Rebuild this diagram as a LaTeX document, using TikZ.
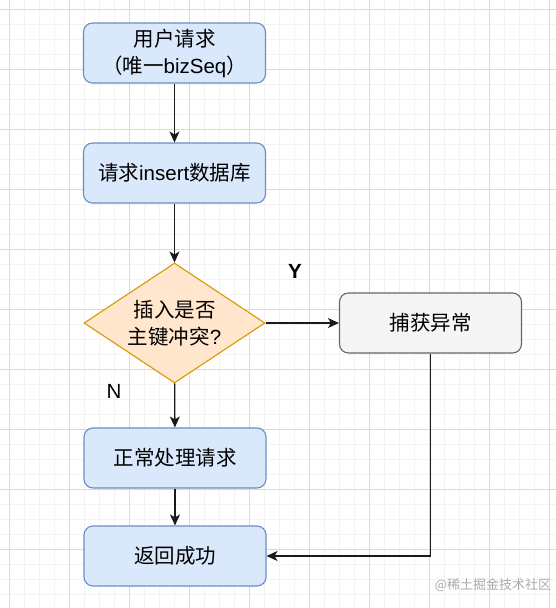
\documentclass[tikz,border=0pt]{standalone}
\usepackage{fontspec}
\setmainfont{Liberation Sans}
\newfontfamily\cjk{Noto Sans CJK SC}
\usetikzlibrary{arrows.meta,shapes.geometric}
\definecolor{bluefill}{HTML}{DAE8FC}
\definecolor{blueline}{HTML}{6C8EBF}
\definecolor{orfill}{HTML}{FFE6CC}
\definecolor{orline}{HTML}{D79B00}
\definecolor{grfill}{HTML}{F5F5F5}
\definecolor{grline}{HTML}{666666}
\definecolor{gridmaj}{HTML}{DADADA}
\definecolor{gridmin}{HTML}{F3F3F3}
\definecolor{linecol}{HTML}{1A1A1A}
\definecolor{wmark}{HTML}{ABABAB}
\tikzset{
  bluebox/.style={draw=blueline, fill=bluefill, line width=1.1pt, rounded corners=9pt,
    minimum width=182pt, minimum height=60pt, align=center, inner sep=0pt,
    font=\fontsize{20.5}{27}\selectfont},
  graybox/.style={bluebox, draw=grline, fill=grfill},
  decision/.style={shape=diamond, draw=orline, fill=orfill, line width=1.1pt,
    minimum width=181pt, minimum height=120pt, aspect=1.5, inner sep=0pt, align=center,
    font=\fontsize{20.5}{27}\selectfont},
  arr/.style={draw=linecol, line width=1.3pt,
    -{Stealth[length=11pt,width=10pt,inset=3pt]}},
  lbl/.style={font=\fontsize{20.5}{24}\selectfont, inner sep=0pt},
  wm/.style={font=\cjk\fontsize{13}{15}\selectfont, text=wmark, inner sep=0pt}
}
\begin{document}
\begin{tikzpicture}[x=1pt,y=-1pt]
\useasboundingbox (0,0) rectangle (556,608);
\fill[white] (0,0) rectangle (556,608);
% minor grid
\foreach \i in {0,...,37} {
  \pgfmathsetmacro\xx{9+15*\i}
  \draw[gridmin, line width=0.8pt] (\xx,0) -- (\xx,608);
}
\foreach \i in {0,...,40} {
  \pgfmathsetmacro\yy{9+15*\i}
  \draw[gridmin, line width=0.8pt] (0,\yy) -- (556,\yy);
}
% major grid
\foreach \i in {0,...,9} {
  \pgfmathsetmacro\xx{9+60*\i}
  \draw[gridmaj, line width=0.9pt] (\xx,0) -- (\xx,608);
}
\foreach \i in {0,...,10} {
  \pgfmathsetmacro\yy{9+60*\i}
  \draw[gridmaj, line width=0.9pt] (0,\yy) -- (556,\yy);
}

\node[bluebox] (req) at (174.5,53) {{\cjk 用户请求}\\{\cjk （唯一}bizSeq{\cjk ）}};
\node[bluebox] (ins) at (174.5,173) {{\cjk 请求}insert{\cjk 数据库}};
\node[decision] (dec) at (174.5,323) {{\cjk 插入是否}\\{\cjk 主键冲突}?};
\node[graybox] (catch) at (430.5,323) {\cjk 捕获异常};
\node[bluebox] (norm) at (175,458) {\cjk 正常处理请求};
\node[bluebox] (ret) at (175,556) {\cjk 返回成功};

\draw[arr] (req) -- (ins);
\draw[arr] (ins) -- (dec);
\draw[arr] (dec) -- (catch);
\draw[arr] (dec) -- (norm);
\draw[arr] (norm) -- (ret);
\draw[arr] (catch.south) |- (ret.east);

\node[lbl] (ylbl) at (295,271) {\textbf{Y}};
\node[lbl] (nlbl) at (114,391) {N};
\node[wm] (mark) at (493,585) {@稀土掘金技术社区};
\end{tikzpicture}
\end{document}
